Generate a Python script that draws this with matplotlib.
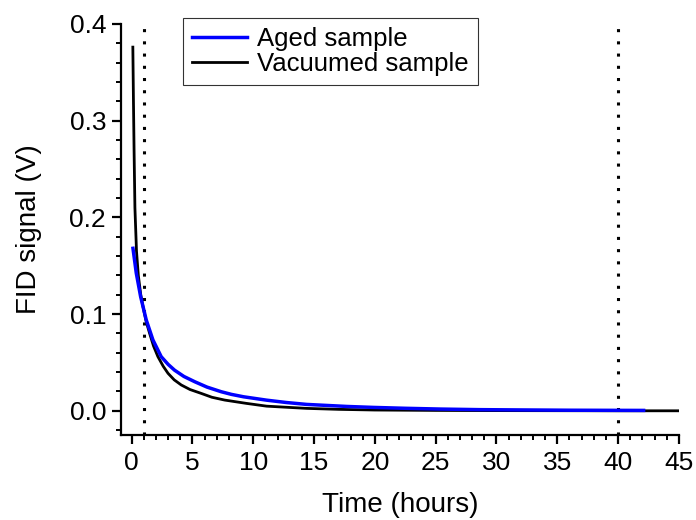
import matplotlib
matplotlib.use("Agg")
import matplotlib.pyplot as plt
from matplotlib.ticker import MultipleLocator

plt.rcParams['font.family'] = ['Liberation Sans', 'DejaVu Sans']

# data
t_aged = [0.11, 0.38, 0.74, 1.2, 1.75, 2.43, 3.0, 3.53, 4.3, 5.2, 6.2, 7.37, 8.2, 9.2, 11.1, 12.7, 14.4,
          17.7, 19.9, 22.5, 25.4, 28.6, 32.0, 36.0, 39.0, 42.1]
v_aged = [0.168, 0.1425, 0.118, 0.094, 0.0733, 0.056, 0.048, 0.042, 0.0355, 0.030, 0.0245, 0.0197, 0.017,
          0.0145, 0.0110, 0.0086, 0.0066, 0.0045, 0.0035, 0.0026, 0.0018, 0.0012, 0.0009, 0.0006, 0.0005, 0.0004]

t_vac = [0.1, 0.15, 0.2, 0.27, 0.4, 0.55, 0.75, 0.93, 1.2, 1.48, 1.8, 2.16, 2.6, 2.99, 3.5, 4.08, 4.8,
         5.72, 6.6, 7.65, 9.42, 11.1, 14.4, 17.0, 20.0, 25.0, 30.0, 35.0, 40.0, 45.0]
v_vac = [0.376, 0.32, 0.27, 0.21, 0.165, 0.14, 0.12, 0.108, 0.092, 0.080, 0.067, 0.056, 0.046, 0.0388,
         0.032, 0.0267, 0.022, 0.018, 0.014, 0.0111, 0.0077, 0.0048, 0.0025, 0.0015, 0.0008, 0.0004,
         0.0002, 0.0001, 0.0, 0.0]

markers_x = [1, 40]

fig = plt.figure(figsize=(6.96, 5.2), dpi=100)
ax = fig.add_axes([0.1734, 0.1635, 0.802, 0.7905])

ax.plot(t_aged, v_aged, color='#0000ff', lw=2.5, label='Aged sample', zorder=3)
ax.plot(t_vac, v_vac, color='black', lw=2.0, label='Vacuumed sample', zorder=2)

for xv in markers_x:
    ax.axvline(xv, color='black', lw=2.2, linestyle=(0, (1, 3)), dash_capstyle='butt', zorder=1)

ax.set_xlim(-0.9, 45)
ax.set_ylim(-0.025, 0.4)
ax.xaxis.set_major_locator(MultipleLocator(5))
ax.xaxis.set_minor_locator(MultipleLocator(1))
ax.yaxis.set_major_locator(MultipleLocator(0.1))
ax.yaxis.set_minor_locator(MultipleLocator(0.02))
ax.xaxis.set_major_formatter(plt.FuncFormatter(lambda v, p: '%d' % v))
ax.yaxis.set_major_formatter(plt.FuncFormatter(lambda v, p: '%.1f' % v))

for s in ['top', 'right']:
    ax.spines[s].set_visible(False)
for s in ['left', 'bottom']:
    ax.spines[s].set_linewidth(1.6)

ax.tick_params(which='major', direction='out', length=6.5, width=1.6, labelsize=19)
ax.tick_params(axis='x', which='major', pad=5)
ax.tick_params(axis='y', which='major', pad=4)
ax.tick_params(which='minor', direction='out', length=3.5, width=1.4)

ax.set_xlabel('Time (hours)', fontsize=20, labelpad=12)
ax.set_ylabel('FID signal (V)', fontsize=20, labelpad=20)

leg = ax.legend(loc='upper left', bbox_to_anchor=(183 / 696, 1 - 18 / 520),
                bbox_transform=fig.transFigure, fontsize=18.5, frameon=True,
                fancybox=False, borderaxespad=0, handlelength=2.15,
                borderpad=0.35, labelspacing=0.05, handletextpad=0.38)
leg.get_frame().set_edgecolor('black')
leg.get_frame().set_linewidth(0.8)

fig.savefig('out.png', dpi=100)
